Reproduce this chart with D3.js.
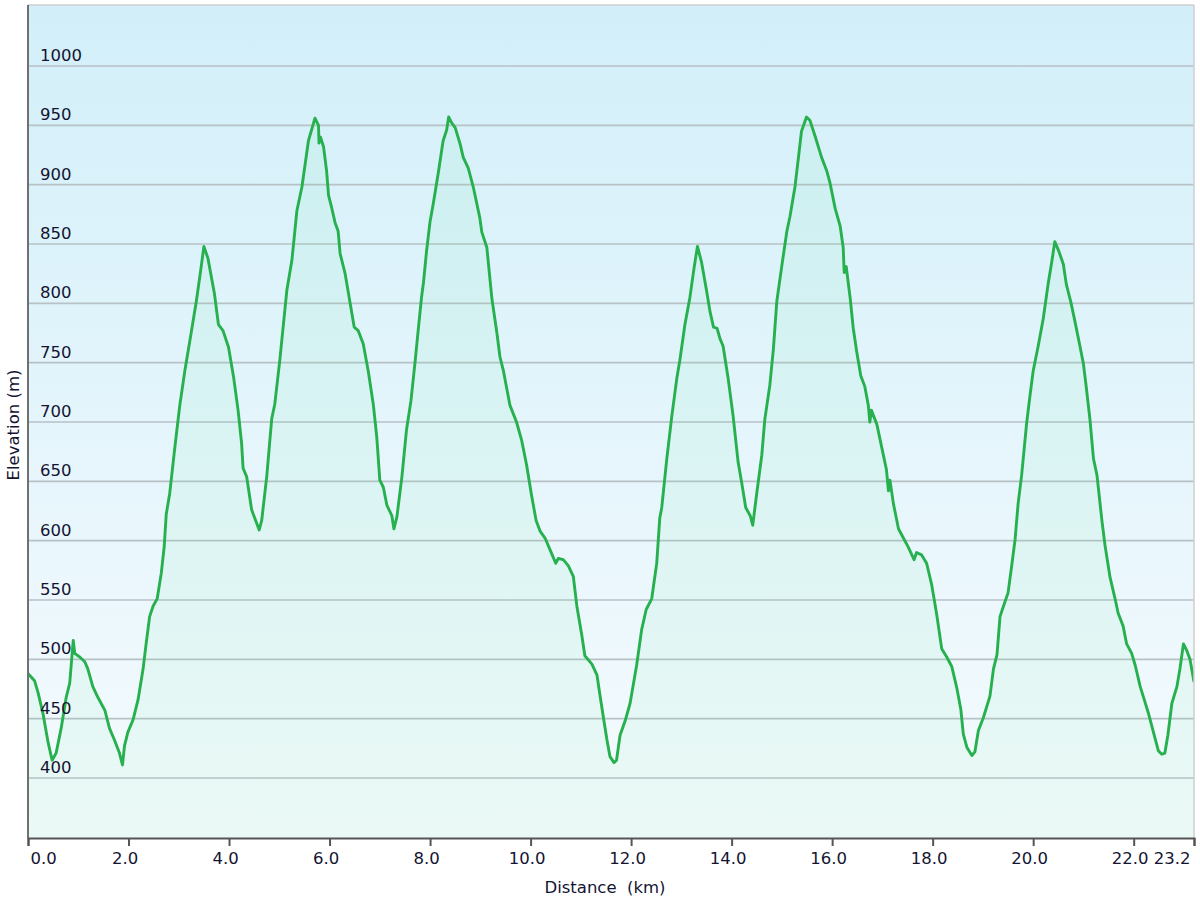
<!DOCTYPE html>
<html><head><meta charset="utf-8">
<script src="https://cdn.jsdelivr.net/npm/d3@7"></script>
<style>
html,body{margin:0;padding:0;background:#fff;}
svg{display:block;}
text{font-family:"DejaVu Sans",Verdana,sans-serif;}
</style></head>
<body>
<script>
// Distance along the route (km)
const distanceKm = [0.00,0.13,0.20,0.30,0.40,0.48,0.56,0.66,0.76,0.83,0.90,0.93,1.03,1.13,1.19,1.29,1.39,1.53,1.62,1.72,1.82,1.88,1.92,1.99,2.09,2.19,2.29,2.35,2.42,2.49,2.57,2.65,2.71,2.75,2.82,2.92,3.02,3.12,3.25,3.35,3.44,3.50,3.58,3.71,3.79,3.88,3.99,4.09,4.18,4.25,4.28,4.35,4.45,4.52,4.60,4.65,4.75,4.85,4.91,5.01,5.15,5.25,5.35,5.45,5.58,5.71,5.78,5.79,5.82,5.88,5.94,5.98,6.04,6.11,6.17,6.21,6.31,6.41,6.49,6.57,6.67,6.77,6.87,6.94,7.00,7.07,7.14,7.24,7.28,7.34,7.44,7.53,7.62,7.70,7.77,7.83,7.87,7.93,8.00,8.06,8.16,8.26,8.33,8.37,8.43,8.50,8.60,8.66,8.76,8.86,8.99,9.03,9.13,9.23,9.33,9.39,9.46,9.59,9.72,9.82,9.92,10.02,10.11,10.19,10.29,10.39,10.50,10.55,10.65,10.75,10.85,10.92,11.02,11.08,11.22,11.32,11.38,11.46,11.52,11.58,11.66,11.71,11.78,11.88,11.98,12.11,12.21,12.30,12.41,12.51,12.57,12.61,12.71,12.81,12.91,12.97,13.07,13.17,13.25,13.32,13.40,13.50,13.57,13.64,13.71,13.77,13.83,13.93,14.03,14.13,14.20,14.28,14.37,14.42,14.50,14.60,14.66,14.76,14.83,14.90,15.00,15.10,15.16,15.26,15.33,15.39,15.49,15.56,15.66,15.79,15.89,15.96,16.06,16.16,16.22,16.24,16.28,16.36,16.42,16.49,16.57,16.65,16.72,16.75,16.78,16.89,16.99,17.08,17.12,17.15,17.22,17.32,17.42,17.51,17.63,17.68,17.78,17.88,17.98,18.08,18.18,18.28,18.38,18.48,18.56,18.61,18.68,18.78,18.84,18.91,19.01,19.14,19.21,19.28,19.34,19.41,19.50,19.57,19.64,19.70,19.77,19.87,19.93,20.00,20.10,20.20,20.30,20.37,20.43,20.51,20.60,20.66,20.75,20.83,20.93,21.00,21.06,21.13,21.20,21.27,21.37,21.43,21.53,21.63,21.69,21.79,21.86,21.96,22.03,22.13,22.21,22.29,22.39,22.49,22.56,22.62,22.68,22.76,22.86,22.92,22.99,23.05,23.12,23.20];
// Elevation (m)
const elevationM = [488,482,472,454,430,415,421,442,468,480,516,505,502,498,492,477,468,457,442,432,421,411,427,439,449,466,492,513,536,545,551,572,595,622,640,678,714,743,776,802,829,848,838,808,782,777,763,738,710,682,661,654,626,618,609,617,654,703,715,752,811,836,878,898,937,956,950,935,940,932,912,891,881,868,861,842,825,800,780,777,766,743,715,687,651,645,630,621,610,620,654,693,718,750,780,805,818,844,869,883,909,937,946,957,952,948,934,923,914,898,872,860,847,804,775,755,743,714,700,685,664,638,617,608,602,592,581,585,584,579,570,545,520,503,496,487,470,448,432,418,413,415,436,448,463,495,525,542,551,581,619,628,669,705,737,752,782,805,829,848,835,811,793,780,779,770,764,737,705,666,649,628,621,613,640,672,702,731,761,802,832,861,873,898,923,945,957,954,941,923,912,901,880,865,847,826,831,804,779,759,739,730,714,700,710,698,678,660,642,651,631,610,602,595,584,590,588,581,563,538,509,502,494,476,458,437,426,419,422,440,451,469,492,504,536,545,556,578,601,631,655,699,720,743,764,787,817,835,852,844,833,816,801,785,764,749,728,702,669,655,616,596,569,551,539,528,513,505,495,477,466,455,439,423,420,421,436,463,477,492,513,508,500,481];
const xTickValues = [0, 2, 4, 6, 8, 10, 12, 14, 16, 18, 20, 22, 23.2];
const xTickLabels = ["0.0","2.0","4.0","6.0","8.0","10.0","12.0","14.0","16.0","18.0","20.0","22.0","23.2"];
const yTickValues = [400,450,500,550,600,650,700,750,800,850,900,950,1000];
const xTitle = "Distance  (km)";
const yTitle = "Elevation (m)";

const W = 1200, H = 900;
const L = 28, R = 1194, T = 5, B = 838;
const data = distanceKm.map((d,i)=>({d, e: elevationM[i]}));

const x = d3.scaleLinear().domain([0, 23.2]).range([L, R]);
const y = d3.scaleLinear().domain([349.44, 1051.4]).range([B, T]);

const svg = d3.select("body").append("svg").attr("width", W).attr("height", H);
const defs = svg.append("defs");
const bg = defs.append("linearGradient").attr("id","bg").attr("x1",0).attr("y1",0).attr("x2",0).attr("y2",1);
bg.append("stop").attr("offset","0%").attr("stop-color","#d2eff9");
bg.append("stop").attr("offset","100%").attr("stop-color","#f6fbfe");
const ag = defs.append("linearGradient").attr("id","ag").attr("x1",0).attr("y1",0).attr("x2",0).attr("y2",1);
ag.append("stop").attr("offset","0%").attr("stop-color","rgb(90,225,150)").attr("stop-opacity",0.085);
ag.append("stop").attr("offset","100%").attr("stop-color","rgb(90,225,140)").attr("stop-opacity",0.075);
defs.append("clipPath").attr("id","clip").append("rect").attr("x",L).attr("y",T).attr("width",R-L).attr("height",B-T);

svg.append("rect").attr("x",L).attr("y",T).attr("width",R-L).attr("height",B-T).attr("fill","url(#bg)");

// gridlines
svg.append("g").selectAll("line").data(yTickValues).join("line")
  .attr("x1",L).attr("x2",R).attr("y1",d=>y(d)).attr("y2",d=>y(d))
  .attr("stroke","#b7c1c6").attr("stroke-width",1.6);

// area + line
const g = svg.append("g").attr("clip-path","url(#clip)");
g.append("path").datum(data)
  .attr("d", d3.area().x(p=>x(p.d)).y0(B).y1(p=>y(p.e)))
  .attr("fill","url(#ag)");
g.append("path").datum(data)
  .attr("d", d3.line().x(p=>x(p.d)).y(p=>y(p.e)))
  .attr("fill","none").attr("stroke","#26b04e").attr("stroke-width",2.9).attr("stroke-linejoin","round");

// y labels (inside plot)
svg.append("g").selectAll("text").data(yTickValues).join("text")
  .attr("x", L+12).attr("y", d=>y(d)-5)
  .attr("font-size",16.5).attr("fill","#141432").text(d=>d);

// borders
svg.append("line").attr("x1",L).attr("x2",R).attr("y1",T).attr("y2",T).attr("stroke","#cfcfcf").attr("stroke-width",1.5);
svg.append("line").attr("x1",R).attr("x2",R).attr("y1",T).attr("y2",B).attr("stroke","#cfcfcf").attr("stroke-width",1.5);
svg.append("line").attr("x1",L).attr("x2",L).attr("y1",T).attr("y2",B).attr("stroke","#707070").attr("stroke-width",2);

// x axis
const xAxis = d3.axisBottom(x).tickValues(xTickValues).tickSize(8).tickFormat((d,i)=>xTickLabels[i]);
const ax = svg.append("g").attr("transform",`translate(0,${B})`).call(xAxis);
ax.select(".domain").attr("stroke","#555").attr("stroke-width",2);
ax.selectAll(".tick line").attr("stroke","#555").attr("stroke-width",2);
ax.selectAll(".tick text").attr("font-size",16.5).attr("fill","#141432")
  .attr("font-family","DejaVu Sans, Verdana, sans-serif")
  .attr("y",14).attr("dy","0.71em")
  .attr("text-anchor",(d,i)=> i===0 ? "start" : (i===xTickValues.length-1 ? "end" : "middle"))
  .attr("x",(d,i)=> i===0 ? 2 : -4);

// titles
svg.append("text").attr("x",605).attr("y",893).attr("text-anchor","middle")
  .attr("font-size",16.5).attr("fill","#141432").style("white-space","pre").text(xTitle);
svg.append("text").attr("transform","translate(19,425) rotate(-90)").attr("text-anchor","middle")
  .attr("font-size",16.5).attr("fill","#141432").text(yTitle);
</script>
</body></html>
